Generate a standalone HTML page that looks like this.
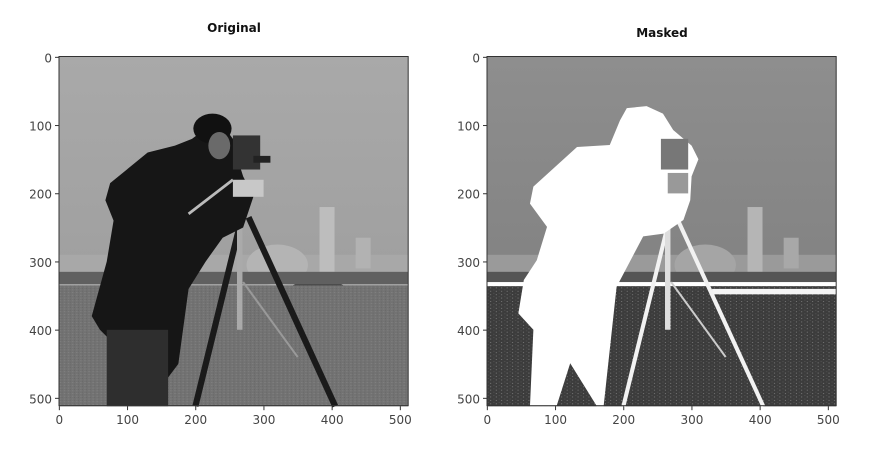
<!DOCTYPE html>
<html><head><meta charset="utf-8"><style>
body{margin:0;background:#fff;}
svg{display:block;font-family:"DejaVu Sans","Liberation Sans",sans-serif;}
</style></head><body>
<svg id="fig" width="870" height="465" viewBox="0 0 870 465">
<defs>
<linearGradient id="sky" x1="0" y1="0" x2="0" y2="1">
<stop offset="0" stop-color="#a9a9a9"/><stop offset="1" stop-color="#9a9a9a"/></linearGradient>
<linearGradient id="sky2" x1="0" y1="0" x2="0" y2="1">
<stop offset="0" stop-color="#8e8e8e"/><stop offset="1" stop-color="#7c7c7c"/></linearGradient>
<pattern id="grass" width="6" height="4" patternUnits="userSpaceOnUse">
<rect width="6" height="4" fill="#727272"/><rect x="1" y="1" width="2" height="1" fill="#858585"/><rect x="4" y="3" width="1" height="1" fill="#5e5e5e"/></pattern>
<pattern id="grass2" width="8" height="5" patternUnits="userSpaceOnUse">
<rect width="8" height="5" fill="#3c3c3c"/><rect x="1" y="1" width="2" height="1" fill="#555"/><rect x="5" y="3" width="1" height="1" fill="#bbb"/></pattern>
</defs>
<g id="panels"></g>
</svg>
<script>
const panelTitles = ["Original", "Masked"];
const xTicks = [0, 100, 200, 300, 400, 500];
const yTicks = [0, 100, 200, 300, 400, 500];
const imgSize = 512;
const panelLeft = [59, 487];
const top0 = 57, scale = 0.682;
const NS = "http://www.w3.org/2000/svg";
function el(tag, attrs, parent){const e=document.createElementNS(NS,tag);for(const k in attrs)e.setAttribute(k,attrs[k]);parent.appendChild(e);return e;}
const silhouette = "205,75 234,72 258,83 273,107 300,130 310,150 300,175 298,210 288,239 259,259 229,263 190,337 171,512 161,512 122,449 102,512 63,512 68,400 46,376 54,327 73,298 88,249 63,215 68,190 132,132 180,129 195,93";
const coat = "215,105 240,100 255,120 262,150 270,175 285,205 270,250 240,265 215,300 190,340 175,450 160,470 130,450 90,430 60,400 48,380 70,300 80,240 68,210 75,185 130,140 170,130 195,120";
const root = document.getElementById("panels");
panelTitles.forEach((title, p) => {
  const g = el("g", {}, root);
  
  
  const x0 = panelLeft[p];
  const img = el("g", {transform:`translate(${x0},${top0}) scale(${scale})`}, g);
  
  
  const masked = p === 1;
  el("rect",{x:0,y:0,width:512,height:512,fill:masked?"url(#sky2)":"url(#sky)"},img);
  el("rect",{x:0,y:290,width:512,height:45,fill:masked?"#9a9a9a":"#a8a8a8"},img);
  el("ellipse",{cx:320,cy:305,rx:45,ry:30,fill:masked?"#a5a5a5":"#b4b4b4"},img);
  el("rect",{x:382,y:220,width:22,height:95,fill:masked?"#b5b5b5":"#bdbdbd"},img);
  el("rect",{x:435,y:265,width:22,height:45,fill:masked?"#a8a8a8":"#b2b2b2"},img);
  el("path",{d:"M330 345 Q380 300 430 345 Z",fill:masked?"#5a5a5a":"#4a4a4a"},img);
  el("rect",{x:0,y:315,width:512,height:18,fill:masked?"#555":"#606060"},img);
  el("rect",{x:0,y:335,width:512,height:177,fill:masked?"url(#grass2)":"url(#grass)"},img);
  if (masked) {
    el("rect",{x:0,y:330,width:512,height:6,fill:"#fff"},img);
    el("rect",{x:330,y:340,width:182,height:8,fill:"#f4f4f4"},img);
  }
  const leg = masked ? "#f2f2f2" : "#1a1a1a";
  el("line",{x1:268,y1:235,x2:200,y2:512,stroke:leg,"stroke-width":masked?6:9},img);
  el("line",{x1:278,y1:235,x2:405,y2:512,stroke:leg,"stroke-width":masked?6:9},img);
  el("line",{x1:265,y1:240,x2:265,y2:400,stroke:masked?"#ddd":"#aaa","stroke-width":8},img);
  el("line",{x1:270,y1:330,x2:350,y2:440,stroke:masked?"#ccc":"#999","stroke-width":3},img);
  if (!masked) {
    el("polygon",{points:coat,fill:"#161616"},img);
    el("rect",{x:70,y:400,width:90,height:112,fill:"#2e2e2e"},img);
    el("ellipse",{cx:225,cy:105,rx:28,ry:22,fill:"#111"},img);
    el("ellipse",{cx:235,cy:130,rx:16,ry:20,fill:"#6a6a6a"},img);
    el("rect",{x:255,y:115,width:40,height:50,fill:"#333"},img);
    el("rect",{x:285,y:145,width:25,height:10,fill:"#222"},img);
    el("rect",{x:255,y:180,width:45,height:25,fill:"#c8c8c8"},img);
    el("line",{x1:255,y1:180,x2:190,y2:230,stroke:"#bbb","stroke-width":4},img);
  } else {
    el("polygon",{points:silhouette,fill:"#fff"},img);
    el("rect",{x:255,y:120,width:40,height:45,fill:"#777"},img);
    el("rect",{x:265,y:170,width:30,height:30,fill:"#999"},img);
  }
  el("rect",{x:x0,y:top0-0.5,width:imgSize*scale,height:imgSize*scale,fill:"none",stroke:"#333","stroke-width":1},g);
  const t = el("text",{x:x0+175,y:p?37:32,"text-anchor":"middle","font-size":12,"font-weight":"bold",fill:"#111"},g);
  t.textContent = title;
  
  
  const bottom = top0 + imgSize*scale;
  xTicks.forEach(v => {
    const x = x0 + (v+0.5)*scale;
    el("line",{x1:x,y1:bottom,x2:x,y2:bottom+4,stroke:"#333"},g);
    const tx = el("text",{x:x,y:bottom+18,"text-anchor":"middle","font-size":12,fill:"#444"},g);
    tx.textContent = v;
    
    
  });
  yTicks.forEach(v => {
    const y = top0 + (v+0.5)*scale;
    el("line",{x1:x0-4,y1:y,x2:x0,y2:y,stroke:"#333"},g);
    const ty = el("text",{x:x0-7,y:y+5,"text-anchor":"end","font-size":12,fill:"#444"},g);
    ty.textContent = v;
    
    
  });
});
</script>
</body></html>
